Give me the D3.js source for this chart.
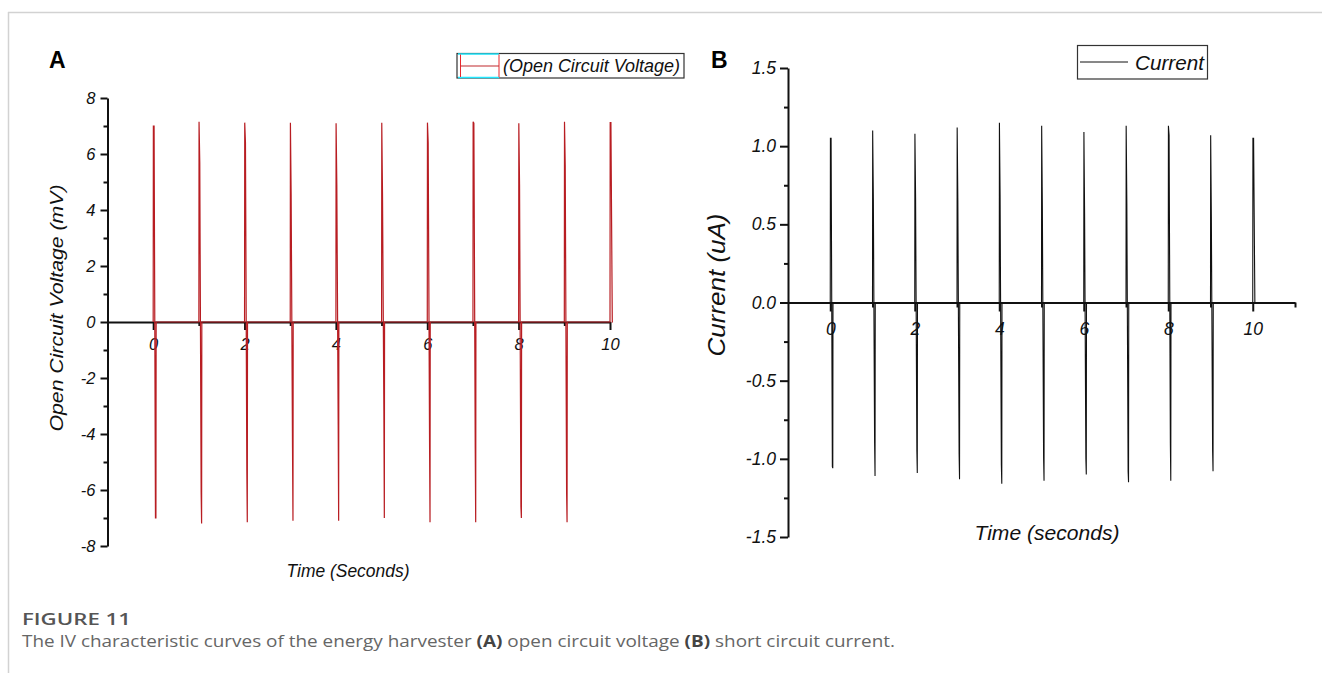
<!DOCTYPE html>
<html><head><meta charset="utf-8">
<script src="https://cdn.jsdelivr.net/npm/d3@7"></script>
<style>body{margin:0;background:#fff} svg{display:block}</style>
</head><body>
<svg id="c" width="1322" height="673"></svg>
<script>
// ---------- data ----------
// Panel A: open circuit voltage pulses (mV)
const pulseTimesA = [0, 1, 2, 3, 4, 5, 6, 7, 8, 9, 10];
const voltPeakPos = [7.0, 7.15, 7.12, 7.12, 7.1, 7.12, 7.12, 7.15, 7.1, 7.15, 7.12];
const voltSecPos  = [7.0, 5.7, 6.4, 4.6, 4.9, 4.6, 6.4, 7.1, 4.9, 5.6, 7.12];
const voltSecNeg  = [-7.0, -6.1, -5.3, -4.5, -3.7, -3.2, -4.3, -4.5, -6.6, -6.1, 0];
const voltPeakNeg = [-7.0, -7.2, -7.15, -7.1, -7.1, -7.0, -7.15, -7.15, -7.0, -7.15, 0];
// Panel B: short circuit current pulses (uA)
const pulseTimesB = [0, 1, 2, 3, 4, 5, 6, 7, 8, 9, 10];
const currPeakPos = [1.05, 1.10, 1.08, 1.12, 1.15, 1.13, 1.09, 1.13, 1.13, 1.07, 1.05];
const currSecPos  = [1.05, 0.67, 0.67, 0.65, 0.68, 0.62, 0.57, 0.63, 1.07, 0.55, 1.05];
const currSecNeg  = [-1.05, -0.9, -0.95, -0.97, -1.04, -1.0, -1.0, -1.08, -0.9, -0.95, 0];
const currPeakNeg = [-1.06, -1.11, -1.09, -1.13, -1.16, -1.14, -1.10, -1.15, -1.14, -1.08, 0];
// time offsets within one pulse (seconds): rise, peak, secondary, fall, trough, back to zero
const pulseDt = [0, 0.004, 0.02, 0.05, 0.06, 0.065];

// ticks
const voltTicks = [-8, -6, -4, -2, 0, 2, 4, 6, 8];
const voltMinor = [-7, -5, -3, -1, 1, 3, 5, 7];
const timeTicksA = [0, 2, 4, 6, 8, 10];
const timeMinorA = [1, 3, 5, 7, 9];
const currTicks = [-1.5, -1.0, -0.5, 0.0, 0.5, 1.0, 1.5];
const currMinor = [-1.25, -0.75, -0.25, 0.25, 0.75, 1.25];
const timeTicksB = [0, 2, 4, 6, 8, 10];
const timeMinorB = [1, 3, 5, 7, 9, 11];

// ---------- drawing ----------
const svg = d3.select('#c');
const NARROW = "'Liberation Sans Narrow','Arial Narrow','Liberation Sans',Arial,sans-serif";
const ARIAL = "'Liberation Sans',Arial,sans-serif";

svg.append('line').attr('x1', 8).attr('x2', 1322).attr('y1', 12.5).attr('y2', 12.5)
  .attr('stroke', '#d2d2d2').attr('stroke-width', 1.5);
svg.append('line').attr('x1', 8.5).attr('x2', 8.5).attr('y1', 12).attr('y2', 673)
  .attr('stroke', '#d2d2d2').attr('stroke-width', 1.5);

function buildPulses(times, pos, sPos, sNeg, neg) {
  const pts = [];
  times.forEach((t, i) => {
    const vals = [0, pos[i], sPos[i], sNeg[i], neg[i], 0];
    pulseDt.forEach((dt, j) => pts.push([t + dt, vals[j]]));
  });
  return pts;
}

function styleAxis(g, sw) {
  g.select('.domain').attr('stroke', '#111').attr('stroke-width', sw);
  g.selectAll('.tick line').attr('stroke', '#111').attr('stroke-width', sw);
}

// ===== Panel A =====
const xA = d3.scaleLinear().domain([-1, 10]).range([107.5, 610]);
const yA = d3.scaleLinear().domain([-8, 8]).range([546, 98]);

const gyA = svg.append('g').attr('transform', 'translate(107.5,0)')
  .call(d3.axisLeft(yA).tickValues(voltTicks).tickSize(7).tickSizeOuter(0).tickPadding(5).tickFormat(d => String(d)));
styleAxis(gyA, 2);
gyA.selectAll('text').attr('font-family', NARROW).attr('font-style', 'italic').attr('font-size', 16.5).attr('fill', '#111');
const gyAm = svg.append('g').attr('transform', 'translate(107.5,0)')
  .call(d3.axisLeft(yA).tickValues(voltMinor).tickSize(4).tickFormat(''));
gyAm.select('.domain').remove();
styleAxis(gyAm, 2);

const gxA = svg.append('g').attr('transform', `translate(0,${yA(0)})`)
  .call(d3.axisBottom(xA).tickValues(timeTicksA).tickSize(8).tickSizeOuter(0).tickPadding(8).tickFormat(d => String(d)));
styleAxis(gxA, 2);
gxA.selectAll('text').attr('font-family', NARROW).attr('font-style', 'italic').attr('font-size', 16.5).attr('fill', '#111');
const gxAm = svg.append('g').attr('transform', `translate(0,${yA(0)})`)
  .call(d3.axisBottom(xA).tickValues(timeMinorA).tickSize(4).tickFormat(''));
gxAm.select('.domain').remove();
styleAxis(gxAm, 2);

const lineA = d3.line().x(d => xA(d[0])).y(d => yA(d[1]));
svg.append('path')
  .datum(buildPulses(pulseTimesA, voltPeakPos, voltSecPos, voltSecNeg, voltPeakNeg))
  .attr('d', lineA).attr('fill', 'none').attr('stroke', '#b81d22').attr('stroke-width', 1.2);

svg.append('text').attr('x', 49).attr('y', 68).text('A')
  .attr('font-family', ARIAL).attr('font-weight', 'bold').attr('font-size', 23).attr('fill', '#000');
svg.append('text').attr('transform', 'translate(63,308) rotate(-90)').attr('text-anchor', 'middle')
  .attr('font-family', NARROW).attr('font-style', 'italic').attr('font-size', 18).attr('fill', '#111')
  .attr('textLength', 247).attr('lengthAdjust', 'spacingAndGlyphs')
  .text('Open Circuit Voltage (mV)');
svg.append('text').attr('x', 348).attr('y', 577).attr('text-anchor', 'middle')
  .attr('font-family', NARROW).attr('font-style', 'italic').attr('font-size', 19).attr('fill', '#111')
  .attr('textLength', 123).attr('lengthAdjust', 'spacingAndGlyphs')
  .text('Time (Seconds)');

const lgA = svg.append('g');
lgA.append('rect').attr('x', 457).attr('y', 53.5).attr('width', 227).attr('height', 24.5)
  .attr('fill', '#fff').attr('stroke', '#333').attr('stroke-width', 1.2);
lgA.append('line').attr('x1', 458).attr('x2', 499).attr('y1', 54).attr('y2', 54).attr('stroke', '#22e8ff').attr('stroke-width', 1.5);
lgA.append('line').attr('x1', 458).attr('x2', 499).attr('y1', 77.5).attr('y2', 77.5).attr('stroke', '#22e8ff').attr('stroke-width', 1.5);
lgA.append('line').attr('x1', 460.5).attr('x2', 460.5).attr('y1', 54.5).attr('y2', 77).attr('stroke', '#e8282d').attr('stroke-width', 1);
lgA.append('line').attr('x1', 499).attr('x2', 499).attr('y1', 54.5).attr('y2', 77).attr('stroke', '#e8282d').attr('stroke-width', 1);
lgA.append('line').attr('x1', 460.5).attr('x2', 499).attr('y1', 66).attr('y2', 66).attr('stroke', '#c0282d').attr('stroke-width', 1.2);
lgA.append('text').attr('x', 503).attr('y', 72).text('(Open Circuit Voltage)')
  .attr('font-family', NARROW).attr('font-style', 'italic').attr('font-size', 18).attr('fill', '#111')
  .attr('textLength', 177).attr('lengthAdjust', 'spacingAndGlyphs');

// ===== Panel B =====
const xB = d3.scaleLinear().domain([-1, 11]).range([788, 1295]);
const yB = d3.scaleLinear().domain([-1.5, 1.5]).range([537, 68]);

const gyB = svg.append('g').attr('transform', 'translate(788,0)')
  .call(d3.axisLeft(yB).tickValues(currTicks).tickSize(8).tickSizeOuter(0).tickPadding(4).tickFormat(d => d.toFixed(1)));
styleAxis(gyB, 2);
gyB.selectAll('text').attr('font-family', ARIAL).attr('font-style', 'italic').attr('font-size', 17.5).attr('fill', '#111');
const gyBm = svg.append('g').attr('transform', 'translate(788,0)')
  .call(d3.axisLeft(yB).tickValues(currMinor).tickSize(4).tickFormat(''));
gyBm.select('.domain').remove();
styleAxis(gyBm, 2);

const gxB = svg.append('g').attr('transform', `translate(0,${yB(0)})`)
  .call(d3.axisBottom(xB).tickValues(timeTicksB).tickSize(9).tickSizeOuter(0).tickPadding(11).tickFormat(d => String(d)));
styleAxis(gxB, 2);
gxB.selectAll('text').attr('font-family', ARIAL).attr('font-style', 'italic').attr('font-size', 17.5).attr('fill', '#111');
const gxBm = svg.append('g').attr('transform', `translate(0,${yB(0)})`)
  .call(d3.axisBottom(xB).tickValues(timeMinorB).tickSize(5).tickFormat(''));
gxBm.select('.domain').remove();
styleAxis(gxBm, 2);

const lineB = d3.line().x(d => xB(d[0])).y(d => yB(d[1]));
svg.append('path')
  .datum(buildPulses(pulseTimesB, currPeakPos, currSecPos, currSecNeg, currPeakNeg))
  .attr('d', lineB).attr('fill', 'none').attr('stroke', '#111').attr('stroke-width', 1.1);

svg.append('text').attr('x', 711).attr('y', 68).text('B')
  .attr('font-family', ARIAL).attr('font-weight', 'bold').attr('font-size', 23).attr('fill', '#000');
svg.append('text').attr('transform', 'translate(725,285) rotate(-90)').attr('text-anchor', 'middle')
  .attr('font-family', ARIAL).attr('font-style', 'italic').attr('font-size', 23).attr('fill', '#111')
  .attr('textLength', 143).attr('lengthAdjust', 'spacingAndGlyphs')
  .text('Current (uA)');
svg.append('text').attr('x', 1047).attr('y', 540).attr('text-anchor', 'middle')
  .attr('font-family', ARIAL).attr('font-style', 'italic').attr('font-size', 21).attr('fill', '#111')
  .attr('textLength', 145).attr('lengthAdjust', 'spacingAndGlyphs')
  .text('Time (seconds)');

const lgB = svg.append('g');
lgB.append('rect').attr('x', 1077.5).attr('y', 45.5).attr('width', 130).attr('height', 33.5)
  .attr('fill', '#fff').attr('stroke', '#333').attr('stroke-width', 1.2);
lgB.append('line').attr('x1', 1080).attr('x2', 1128).attr('y1', 62).attr('y2', 62).attr('stroke', '#111').attr('stroke-width', 1);
lgB.append('text').attr('x', 1135).attr('y', 70).text('Current')
  .attr('font-family', ARIAL).attr('font-style', 'italic').attr('font-size', 21).attr('fill', '#111')
  .attr('textLength', 69).attr('lengthAdjust', 'spacingAndGlyphs');

// ===== caption =====
svg.append('text').attr('x', 22).attr('y', 625).text('FIGURE 11')
  .attr('font-family', "'Open Sans',sans-serif").attr('font-weight', 600).attr('font-size', 17).attr('fill', '#555')
  .attr('textLength', 109).attr('lengthAdjust', 'spacingAndGlyphs');
const cap = svg.append('text').attr('x', 22).attr('y', 647)
  .attr('font-family', "'Open Sans',sans-serif").attr('font-size', 15.5).attr('fill', '#666')
  .attr('textLength', 873).attr('lengthAdjust', 'spacingAndGlyphs');
cap.append('tspan').text('The IV characteristic curves of the energy harvester ');
cap.append('tspan').attr('font-weight', 'bold').attr('fill', '#444').text('(A)');
cap.append('tspan').text(' open circuit voltage ');
cap.append('tspan').attr('font-weight', 'bold').attr('fill', '#444').text('(B)');
cap.append('tspan').text(' short circuit current.');
</script>
</body></html>
